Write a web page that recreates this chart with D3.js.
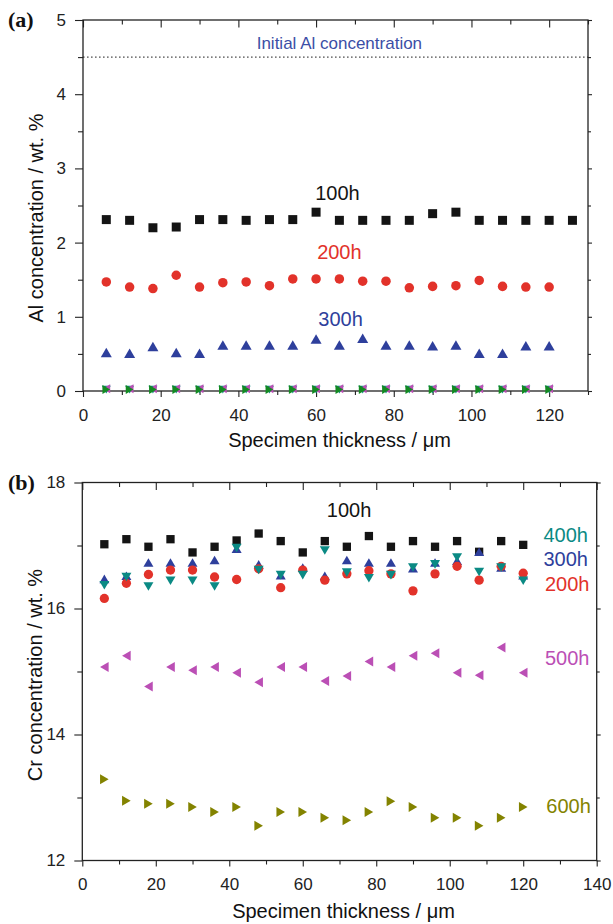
<!DOCTYPE html>
<html>
<head>
<meta charset="utf-8">
<script src="https://cdn.jsdelivr.net/npm/d3@7"></script>
<style>
  body { margin: 0; background: #fff; }
  svg { font-family: "Liberation Sans", Arial, sans-serif; }
</style>
</head>
<body>
<div id="chart"></div>
<script>
// thickness positions (um)
const thickness = [6, 12, 18, 24, 30, 36, 42, 48, 54, 60, 66, 72, 78, 84, 90, 96, 102, 108, 114, 120];
const thickness126 = [6, 12, 18, 24, 30, 36, 42, 48, 54, 60, 66, 72, 78, 84, 90, 96, 102, 108, 114, 120, 126];

// (a) Al concentration, wt.%
const al100 = [2.31, 2.30, 2.20, 2.21, 2.31, 2.31, 2.30, 2.31, 2.31, 2.41, 2.30, 2.30, 2.30, 2.30, 2.39, 2.41, 2.30, 2.30, 2.30, 2.30, 2.30];
const al200 = [1.47, 1.40, 1.38, 1.56, 1.40, 1.46, 1.47, 1.42, 1.51, 1.51, 1.51, 1.48, 1.48, 1.39, 1.41, 1.42, 1.49, 1.41, 1.40, 1.40];
const al300 = [0.52, 0.51, 0.60, 0.52, 0.51, 0.62, 0.62, 0.62, 0.62, 0.70, 0.62, 0.71, 0.62, 0.62, 0.61, 0.62, 0.51, 0.51, 0.61, 0.61];
const al400 = [0.02, 0.02, 0.02, 0.02, 0.02, 0.02, 0.02, 0.02, 0.02, 0.02, 0.02, 0.02, 0.02, 0.02, 0.02, 0.02, 0.02, 0.02, 0.02, 0.02];
const al500 = [0.03, 0.03, 0.03, 0.03, 0.03, 0.03, 0.03, 0.03, 0.03, 0.03, 0.03, 0.03, 0.03, 0.03, 0.03, 0.03, 0.03, 0.03, 0.03, 0.03];
const al600 = [0.02, 0.02, 0.02, 0.02, 0.02, 0.02, 0.02, 0.02, 0.02, 0.02, 0.02, 0.02, 0.02, 0.02, 0.02, 0.02, 0.02, 0.02, 0.02, 0.02];
const alInitial = 4.5;

// (b) Cr concentration, wt.%
const cr100 = [17.02, 17.10, 16.98, 17.10, 16.89, 16.98, 17.08, 17.19, 17.07, 16.89, 17.07, 16.98, 17.15, 16.98, 17.07, 16.98, 17.07, 16.90, 17.07, 17.01];
const cr200 = [16.16, 16.40, 16.54, 16.61, 16.61, 16.50, 16.46, 16.63, 16.33, 16.61, 16.45, 16.55, 16.60, 16.55, 16.28, 16.55, 16.67, 16.45, 16.67, 16.56];
const cr300 = [16.47, 16.52, 16.73, 16.73, 16.73, 16.77, 16.95, 16.70, 16.53, 16.65, 16.52, 16.77, 16.73, 16.73, 16.64, 16.73, 16.76, 16.90, 16.65, 16.53];
const cr400 = [16.37, 16.50, 16.35, 16.44, 16.44, 16.35, 16.96, 16.61, 16.53, 16.53, 16.92, 16.57, 16.48, 16.53, 16.65, 16.70, 16.81, 16.58, 16.65, 16.44];
const cr500 = [15.07, 15.25, 14.76, 15.07, 15.02, 15.07, 14.98, 14.83, 15.07, 15.07, 14.85, 14.93, 15.16, 15.07, 15.25, 15.29, 14.98, 14.94, 15.38, 14.98];
const cr600 = [13.29, 12.95, 12.90, 12.90, 12.85, 12.77, 12.85, 12.55, 12.77, 12.77, 12.68, 12.64, 12.77, 12.94, 12.85, 12.68, 12.68, 12.55, 12.68, 12.85];

// ticks
const xTicksA = [0, 20, 40, 60, 80, 100, 120];
const xMinorA = [10, 30, 50, 70, 90, 110, 130];
const xTicksB = [0, 20, 40, 60, 80, 100, 120, 140];
const xMinorB = [10, 30, 50, 70, 90, 110, 130];
const yTicksA = [0, 1, 2, 3, 4, 5];
const yMinorA = [0.5, 1.5, 2.5, 3.5, 4.5];
const yTicksB = [12, 14, 16, 18];
const yMinorB = [13, 15, 17];

const colors = {
  h100: '#141414', h200: '#e2322a', h300: '#2e3f9c',
  h400: '#0b8a84', h500: '#bb4fb5', h600: '#838300', green: '#138a22'
};

// triangle centred on its bounding box, size = base width
const triangle = {
  draw(context, size) {
    const w = size, h = size * 0.86;
    context.moveTo(0, -h / 2);
    context.lineTo(w / 2, h / 2);
    context.lineTo(-w / 2, h / 2);
    context.closePath();
  }
};
const shapes = {
  square: { type: d3.symbolSquare, rot: 0 },
  circle: { type: d3.symbolCircle, rot: 0 },
  up: { type: triangle, rot: 0 },
  down: { type: triangle, rot: 180 },
  left: { type: triangle, rot: -90 },
  right: { type: triangle, rot: 90 }
};

const width = 613, height = 924;
const svg = d3.select('#chart').append('svg')
  .attr('width', width)
  .attr('height', height);

function drawPanel(p) {
  const g = svg.append('g');
  const x = d3.scaleLinear().domain(p.xDomain).range([p.left, p.right]);
  const y = d3.scaleLinear().domain(p.yDomain).range([p.bottom, p.top]);
  const fmt = d3.format('d');

  // bottom axis
  g.append('g')
    .attr('transform', `translate(0,${p.bottom})`)
    .call(d3.axisBottom(x).tickValues(p.xTicks).tickFormat(fmt).tickSize(6).tickSizeOuter(0).tickPadding(11.5))
    .call(a => a.select('.domain').remove());
  g.append('g')
    .attr('transform', `translate(0,${p.bottom})`)
    .call(d3.axisBottom(x).tickValues(p.xMinor).tickSize(4).tickFormat(''))
    .call(a => a.select('.domain').remove());
  // top axis, ticks inward
  g.append('g')
    .attr('transform', `translate(0,${p.top})`)
    .call(d3.axisTop(x).tickValues(p.xTicks).tickSize(-7.5).tickFormat(''))
    .call(a => a.select('.domain').remove());
  g.append('g')
    .attr('transform', `translate(0,${p.top})`)
    .call(d3.axisTop(x).tickValues(p.xMinor).tickSize(-4.5).tickFormat(''))
    .call(a => a.select('.domain').remove());
  // left axis
  g.append('g')
    .attr('transform', `translate(${p.left},0)`)
    .call(d3.axisLeft(y).tickValues(p.yTicks).tickFormat(fmt).tickSize(8).tickPadding(9))
    .call(a => a.select('.domain').remove());
  g.append('g')
    .attr('transform', `translate(${p.left},0)`)
    .call(d3.axisLeft(y).tickValues(p.yMinor).tickSize(5).tickFormat(''))
    .call(a => a.select('.domain').remove());
  // right axis
  g.append('g')
    .attr('transform', `translate(${p.right},0)`)
    .call(d3.axisRight(y).tickValues(p.yTicks).tickSize(4).tickFormat(''))
    .call(a => a.select('.domain').remove());
  g.append('g')
    .attr('transform', `translate(${p.right},0)`)
    .call(d3.axisRight(y).tickValues(p.yMinor).tickSize(3).tickFormat(''))
    .call(a => a.select('.domain').remove());

  g.selectAll('.tick line').attr('stroke', '#222').attr('stroke-width', 1.1);
  g.selectAll('.tick text').attr('font-size', 17).attr('fill', '#222')
    .attr('font-family', '"Liberation Sans", Arial, sans-serif');

  g.append('rect')
    .attr('x', p.left).attr('y', p.top)
    .attr('width', p.right - p.left).attr('height', p.bottom - p.top)
    .attr('fill', 'none').attr('stroke', '#222').attr('stroke-width', 1.3);

  if (p.refLine) {
    g.append('line')
      .attr('x1', x(p.xDomain[0])).attr('x2', x(p.xDomain[1]))
      .attr('y1', y(p.refLine.value)).attr('y2', y(p.refLine.value))
      .attr('stroke', '#222').attr('stroke-width', 1)
      .attr('stroke-dasharray', '1.6,2.4');
    g.append('text')
      .attr('x', x(p.refLine.labelX)).attr('y', y(p.refLine.value) - 8)
      .attr('text-anchor', 'middle')
      .attr('font-size', 17).attr('fill', '#3b4ea6')
      .text(p.refLine.label);
  }

  p.series.forEach(s => {
    const shape = shapes[s.shape];
    const sym = d3.symbol().type(shape.type).size(s.size);
    g.append('g').selectAll('path')
      .data(s.values.map((v, i) => [s.xs[i], v]))
      .enter().append('path')
      .attr('d', sym)
      .attr('transform', d => `translate(${x(d[0])},${y(d[1])}) rotate(${shape.rot})`)
      .attr('fill', s.color);
  });

  p.labels.forEach(l => {
    g.append('text')
      .attr('x', x(l.x)).attr('y', y(l.y))
      .attr('text-anchor', l.anchor || 'start')
      .attr('font-size', 20)
      .attr('fill', l.color)
      .text(l.text);
  });

  g.append('text')
    .attr('x', (p.left + p.right) / 2 + 4)
    .attr('y', p.bottom + p.xTitleDy)
    .attr('text-anchor', 'middle')
    .attr('font-size', 20).attr('fill', '#111')
    .text('Specimen thickness / μm');

  g.append('text')
    .attr('transform', `translate(${p.left - 40},${p.yTitleY}) rotate(-90)`)
    .attr('text-anchor', 'middle')
    .attr('font-size', 20).attr('fill', '#111')
    .text(p.yTitle);

  g.append('text')
    .attr('x', 8).attr('y', p.top + 7)
    .attr('font-family', '"Liberation Serif", "Times New Roman", serif')
    .attr('font-weight', 'bold').attr('font-size', 22).attr('fill', '#111')
    .text(p.letter);
}

drawPanel({
  letter: '(a)',
  left: 83, right: 588, top: 20, bottom: 391,
  xDomain: [0, 130], yDomain: [0, 5],
  xTicks: xTicksA, xMinor: xMinorA, yTicks: yTicksA, yMinor: yMinorA,
  xTitleDy: 55.5, yTitleY: 218,
  yTitle: 'Al concentration / wt. %',
  refLine: { value: alInitial, label: 'Initial Al concentration', labelX: 66 },
  series: [
    { xs: thickness126, values: al100, shape: 'square', size: 81, color: colors.h100 },
    { xs: thickness, values: al200, shape: 'circle', size: 71, color: colors.h200 },
    { xs: thickness, values: al300, shape: 'up', size: 11, color: colors.h300 },
    { xs: thickness, values: al400, shape: 'down', size: 9, color: colors.h400 },
    { xs: thickness, values: al500, shape: 'left', size: 9, color: colors.h500 },
    { xs: thickness, values: al600, shape: 'right', size: 9, color: colors.green }
  ],
  labels: [
    { text: '100h', x: 65.5, y: 2.58, color: colors.h100, anchor: 'middle' },
    { text: '200h', x: 66, y: 1.78, color: colors.h200, anchor: 'middle' },
    { text: '300h', x: 66.3, y: 0.87, color: colors.h300, anchor: 'middle' }
  ]
});

drawPanel({
  letter: '(b)',
  left: 82.3, right: 596.7, top: 482.5, bottom: 860.5,
  xDomain: [0, 140], yDomain: [12, 18],
  xTicks: xTicksB, xMinor: xMinorB, yTicks: yTicksB, yMinor: yMinorB,
  xTitleDy: 57, yTitleY: 675,
  yTitle: 'Cr concentration / wt. %',
  series: [
    { xs: thickness, values: cr100, shape: 'square', size: 69, color: colors.h100 },
    { xs: thickness, values: cr300, shape: 'up', size: 10, color: colors.h300 },
    { xs: thickness, values: cr200, shape: 'circle', size: 68, color: colors.h200 },
    { xs: thickness, values: cr400, shape: 'down', size: 10, color: colors.h400 },
    { xs: thickness, values: cr500, shape: 'left', size: 10, color: colors.h500 },
    { xs: thickness, values: cr600, shape: 'right', size: 10, color: colors.h600 }
  ],
  labels: [
    { text: '100h', x: 72.6, y: 17.45, color: colors.h100, anchor: 'middle' },
    { text: '400h', x: 125.5, y: 17.06, color: colors.h400 },
    { text: '300h', x: 125.5, y: 16.68, color: colors.h300 },
    { text: '200h', x: 125.9, y: 16.28, color: colors.h200 },
    { text: '500h', x: 125.9, y: 15.10, color: colors.h500 },
    { text: '600h', x: 126.3, y: 12.75, color: colors.h600 }
  ]
});
</script>
</body>
</html>
